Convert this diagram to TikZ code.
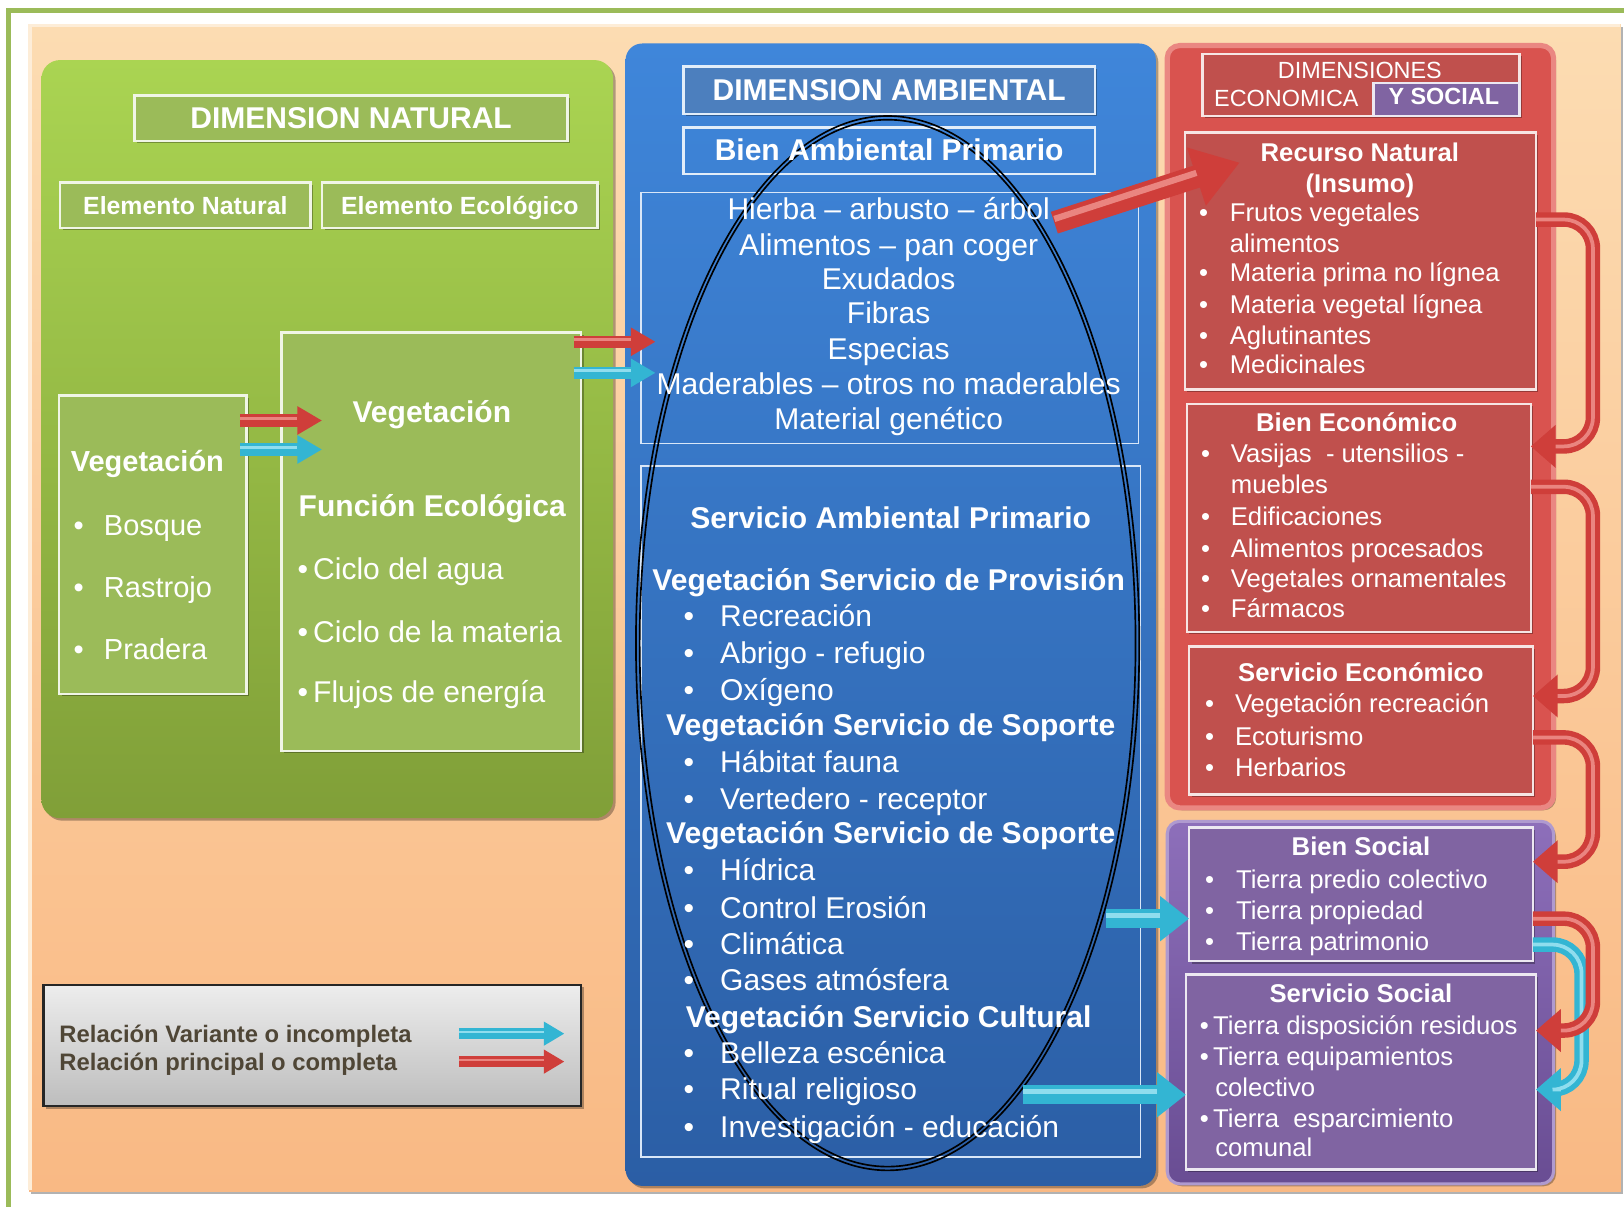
\documentclass[tikz,border=0pt]{standalone}
\usepackage{fontspec}
\setmainfont{Liberation Sans}
\usetikzlibrary{arrows.meta,shadows,fit}
\definecolor{frameG}{HTML}{9BBB59}
\definecolor{peachT}{HTML}{FCDCB2}
\definecolor{peachB}{HTML}{F9B984}
\definecolor{greenT}{HTML}{AAD452}
\definecolor{greenB}{HTML}{809F38}
\definecolor{boxG}{HTML}{9BBB59}
\definecolor{blueT}{HTML}{3F86DA}
\definecolor{blueB}{HTML}{2B5EA5}
\definecolor{boxB}{HTML}{4C7FBE}
\definecolor{redP}{HTML}{D9534F}
\definecolor{redE}{HTML}{EA8782}
\definecolor{boxR}{HTML}{C0504D}
\definecolor{purT}{HTML}{8D6FBA}
\definecolor{purB}{HTML}{694D93}
\definecolor{boxP}{HTML}{8064A2}
\definecolor{arR}{HTML}{CF3E3A}
\definecolor{arRl}{HTML}{EA8580}
\definecolor{arB}{HTML}{33B5D3}
\definecolor{arBl}{HTML}{8FDDEE}
\definecolor{legT}{HTML}{EDEDED}
\definecolor{legB}{HTML}{BDBDBD}
\definecolor{legTx}{HTML}{4F4636}
\begin{document}
\begin{tikzpicture}[x=0.5pt,y=-0.5pt,
 tx/.style={inner sep=0pt,text depth=0pt,text=white,yshift=-2.3pt},
 hb/.style={tx,text height=5.1pt,font=\bfseries\fontsize{14.5}{17}\selectfont},
 hr/.style={tx,text height=5.1pt,font=\fontsize{14.5}{17}\selectfont},
 gr/.style={tx,text height=4.9pt,font=\fontsize{14}{16}\selectfont},
 gbd/.style={tx,text height=4.9pt,font=\bfseries\fontsize{14}{16}\selectfont},
 eb/.style={tx,text height=4.2pt,font=\bfseries\fontsize{12}{14}\selectfont},
 sb/.style={tx,text height=4.35pt,font=\bfseries\fontsize{12.4}{14}\selectfont},
 sr/.style={tx,text height=4.35pt,font=\fontsize{12.4}{14}\selectfont},
 hd/.style={tx,text height=4pt,font=\fontsize{11.3}{13}\selectfont},
 lg/.style={tx,text height=4pt,text=legTx,font=\bfseries\fontsize{11.5}{13}\selectfont},
 shad/.style={drop shadow={shadow xshift=1.2pt,shadow yshift=-1.2pt,opacity=0.3,fill=black}},
 fitbox/.style={inner sep=0pt,outer sep=0pt,fit={#1}},
 gbox/.style={fill=boxG,draw=white!85!boxG,line width=1.2pt,shad},
 bbox/.style={draw=white!85!blueT,line width=1.2pt},
 wline/.style={draw=white!80!blueT,line width=0.7pt},
 rbox/.style={fill=boxR,draw=white!85!boxR,line width=1.2pt,shad},
 pbox/.style={fill=boxP,draw=white!85!boxP,line width=1.2pt,shad},
 arrS/.style={draw=#1,line width=6pt,-{Triangle[length=12pt,width=13pt]},
   postaction={draw=#1l,line width=1.6pt,arrows=-,shorten >=12pt,transform canvas={yshift=1pt}}},
 arrM/.style={draw=#1,line width=9pt,-{Triangle[length=14pt,width=21pt]},
   postaction={draw=#1l,line width=2.4pt,arrows=-,shorten >=14pt,transform canvas={yshift=1.4pt}}},
 arrL/.style={draw=#1,line width=11pt,-{Triangle[length=22pt,width=28pt]},
   postaction={draw=#1l,line width=3pt,arrows=-,shorten >=22pt,transform canvas={yshift=1.8pt}}},
 arrLeg/.style={draw=#1,line width=5pt,-{Triangle[length=10pt,width=11pt]},
   postaction={draw=#1l,line width=1.3pt,arrows=-,shorten >=10pt,transform canvas={yshift=0.8pt}}},
 tube/.style={draw=#1,line width=7pt,rounded corners=14pt,-{Triangle[length=12pt,width=20pt]},
   postaction={draw=#1l,line width=1.8pt,arrows=-,shorten >=12pt}},
]
\useasboundingbox (0,0) rectangle (1568,1165);
% outer frame and background panel
\draw[frameG,line width=2.6pt] (1600,10) -- (8,10) -- (8,1200);
\node[fitbox={(28,24)(1565,1150)},top color=peachT,bottom color=peachB,shad] (bg) {};
\draw[white!50!peachT,line width=1.5pt] (29,1149) -- (29,25) -- (1564,25);

% ================= green panel =================
\node[fitbox={(40,58)(592,790)},rounded corners=9pt,top color=greenT,bottom color=greenB,shad] (gp) {};
\node[gbox,fitbox={(130,92)(548,136)}] (dnB) {};
\node[hb] (dnT) at (dnB.center) {DIMENSION NATURAL};
\node[gbox,fitbox={(58,176)(300,220)}] (enB) {};
\node[eb] (enT) at (enB.center) {Elemento Natural};
\node[gbox,fitbox={(311,176)(577,220)}] (eeB) {};
\node[eb] (eeT) at (eeB.center) {Elemento Ecológico};
\node[gbox,fitbox={(57,382)(238,670)}] (v1) {};
\node[gbd,anchor=west] (v1t) at (68,446) {Vegetación};
\foreach \y/\t [count=\i] in {508/Bosque,567/Rastrojo,627/Pradera}{
  \node[gr] (v1b\i) at (76,\y) {•};
  \node[gr,anchor=west] (v1i\i) at (100,\y) {\t};}
\node[gbox,fitbox={(272,321)(561,725)}] (v2) {};
\node[hb] (v2t) at (417,398) {Vegetación};
\node[hb,anchor=west] (fe) at (288,489) {Función Ecológica};
\foreach \y/\t [count=\i] in {550/•\,Ciclo del agua,611/•\,Ciclo de la materia,669/•\,Flujos de energía}{
  \node[hr,anchor=west] (fe\i) at (287,\y) {\t};}

% ================= blue panel =================
\node[fitbox={(604,42)(1116,1145)},rounded corners=8pt,top color=blueT,bottom color=blueB,shad] (bp) {};
\node[fitbox={(660,64)(1057,110)},fill=boxB,bbox,shad] (daB) {};
\node[hb] (daT) at (daB.center) {DIMENSION AMBIENTAL};
\node[fitbox={(660,123)(1057,168)},bbox] (bapB) {};
\node[fitbox={(619,186)(1099,428)},wline] (lstB) {};
\node[fitbox={(619,450)(1101,1117)},wline] (srvB) {};
\draw[black,line width=0.8pt] (857,621) ellipse [x radius=121.5pt,y radius=254.5pt];
\draw[black,line width=0.8pt] (857,621) ellipse [x radius=119.7pt,y radius=252.7pt];
\node[hb] (bapT) at (bapB.center) {Bien Ambiental Primario};
\foreach \y/\t [count=\i] in {202/Hierba – arbusto – árbol,237/Alimentos – pan coger,270/Exudados,303/Fibras,337/Especias,371/Maderables – otros no maderables,405/Material genético}{
  \node[hr] (bl\i) at (858,\y) {\t};}
\node[hb] (sapT) at (860,501) {Servicio Ambiental Primario};
\node[hb] (vh1) at (858,560) {Vegetación Servicio de Provisión};
\node[hb] (vh2) at (860,700) {Vegetación Servicio de Soporte};
\node[hb] (vh3) at (860,805) {Vegetación Servicio de Soporte};
\node[hb] (vh4) at (858,982) {Vegetación Servicio Cultural};
\foreach \y/\t [count=\i] in {595/Recreación,631/Abrigo - refugio,667/Oxígeno,736/Hábitat fauna,772/Vertedero - receptor,840/Hídrica,877/Control Erosión,912/Climática,947/Gases atmósfera,1017/Belleza escénica,1052/Ritual religioso,1089/Investigación - educación}{
  \node[hr] (sb\i) at (665,\y) {•};
  \node[hr,anchor=west] (si\i) at (695,\y) {\t};}

% ================= red panel =================
\node[fitbox={(1127,44)(1500,780)},rounded corners=6pt,fill=redP,draw=redE,line width=2.5pt,shad] (rp) {};
\node[rbox,fitbox={(1161,52)(1467,112)}] (hdB) {};
\node[fitbox={(1326,80)(1467,112)},fill=boxP,draw=white!85!boxP,line width=1.2pt] (hdP) {};
\node[hd] (hd1) at (1313,67) {DIMENSIONES};
\node[hd] (hd2) at (1242,94) {ECONOMICA};
\node[hd,font=\bfseries\fontsize{11.3}{13}\selectfont] (hd3) at (1394,92) {Y SOCIAL};
\node[rbox,fitbox={(1144,128)(1483,376)}] (rnB) {};
\node[sb] (rnT1) at (1313,147) {Recurso Natural};
\node[sb] (rnT2) at (1313,177) {(Insumo)};
\foreach \y [count=\i] in {205,263,294,324,352}{\node[sr] (rnb\i) at (1162,\y) {•};}
\foreach \y/\t [count=\i] in {205/Frutos vegetales,235/alimentos,263/Materia prima no lígnea,294/Materia vegetal lígnea,324/Aglutinantes,352/Medicinales}{
  \node[sr,anchor=west] (rni\i) at (1187,\y) {\t};}
\node[rbox,fitbox={(1146,390)(1478,610)}] (beB) {};
\node[sb] (beT) at (1310,408) {Bien Económico};
\foreach \y [count=\i] in {438,498,529,558,587}{\node[sr] (beb\i) at (1164,\y) {•};}
\foreach \y/\t [count=\i] in {438/Vasijas\ \ - utensilios -,468/muebles,498/Edificaciones,529/Alimentos procesados,558/Vegetales ornamentales,587/Fármacos}{
  \node[sr,anchor=west] (bei\i) at (1188,\y) {\t};}
\node[rbox,fitbox={(1148,624)(1480,767)}] (seB) {};
\node[sb] (seT) at (1314,649) {Servicio Económico};
\foreach \y/\t [count=\i] in {679/Vegetación recreación,711/Ecoturismo,741/Herbarios}{
  \node[sr] (seb\i) at (1168,\y) {•};
  \node[sr,anchor=west] (sei\i) at (1192,\y) {\t};}

% ================= purple panel =================
\node[fitbox={(1127,793)(1500,1143)},rounded corners=6pt,top color=purT,bottom color=purB,draw=purT!70!white,line width=1.5pt,shad] (pp) {};
\node[pbox,fitbox={(1148,799)(1480,928)}] (bsB) {};
\node[sb] (bsT) at (1314,817) {Bien Social};
\foreach \y/\t [count=\i] in {849/Tierra predio colectivo,879/Tierra propiedad,909/Tierra patrimonio}{
  \node[sr] (bsb\i) at (1168,\y) {•};
  \node[sr,anchor=west] (bsi\i) at (1193,\y) {\t};}
\node[pbox,fitbox={(1145,941)(1483,1129)}] (ssB) {};
\node[sb] (ssT) at (1314,959) {Servicio Social};
\node[sr,anchor=west] (ss1) at (1158,990) {•\,Tierra disposición residuos};
\node[sr,anchor=west] (ss2) at (1158,1020) {•\,Tierra equipamientos};
\node[sr,anchor=west] (ss3) at (1173,1050) {colectivo};
\node[sr,anchor=west] (ss4) at (1158,1080) {•\,Tierra\ \ esparcimiento};
\node[sr,anchor=west] (ss5) at (1173,1108) {comunal};

% ================= legend =================
\node[fitbox={(42,951)(561,1068)},top color=legT,bottom color=legB,draw=black!85,line width=1pt,shad] (leg) {};
\node[lg,anchor=west] (lg1) at (57,998) {Relación Variante o incompleta};
\node[lg,anchor=west] (lg2) at (57,1025) {Relación principal o completa};
\coordinate (lgA1) at (443,998); \coordinate (lgA1e) at (545,998);
\coordinate (lgA2) at (443,1025); \coordinate (lgA2e) at (545,1025);
\draw[arrLeg=arB] (lgA1) -- (lgA1e);
\draw[arrLeg=arR] (lgA2) -- (lgA2e);

% ================= arrows =================
\coordinate (la1) at (232,406); \coordinate (la1e) at (311,406);
\coordinate (la2) at (232,434); \coordinate (la2e) at (311,434);
\draw[arrS=arR] (la1) -- (la1e);
\draw[arrS=arB] (la2) -- (la2e);
\coordinate (lb1) at (554,330); \coordinate (lb1e) at (633,330);
\coordinate (lb2) at (554,360); \coordinate (lb2e) at (633,360);
\draw[arrS=arR] (lb1) -- (lb1e);
\draw[arrS=arB] (lb2) -- (lb2e);
\coordinate (ba1) at (1068,887);
\coordinate (ba2) at (988,1057);
\draw[arrM=arB] (ba1) -- (bsB.west |- ba1);
\draw[arrM=arB] (ba2) -- (ssB.west |- ba2);
\coordinate (bigS) at (1018,215); \coordinate (bigE) at (1197,157);
\draw[arrL=arR] (bigS) -- (bigE);
% curved tubes
\coordinate (t1) at (0,212); \coordinate (t2) at (0,431);
\coordinate (t3) at (0,470); \coordinate (t4) at (0,672);
\coordinate (t5) at (0,712); \coordinate (t6) at (0,832);
\coordinate (t7) at (0,887); \coordinate (t8) at (0,995);
\coordinate (t9) at (0,912); \coordinate (t10) at (0,1052);
\draw[tube=arB] (bsB.east |- t9) -- (1527,912) -- (1527,1052) -- (ssB.east |- t10);
\draw[tube=arR] (rnB.east |- t1) -- (1538,212) -- (1538,431) -- (beB.east |- t2);
\draw[tube=arR] (beB.east |- t3) -- (1538,470) -- (1538,672) -- (seB.east |- t4);
\draw[tube=arR] (seB.east |- t5) -- (1538,712) -- (1538,832) -- (bsB.east |- t6);
\draw[tube=arR] (bsB.east |- t7) -- (1538,887) -- (1538,995) -- (ssB.east |- t8);
\end{tikzpicture}
\end{document}
